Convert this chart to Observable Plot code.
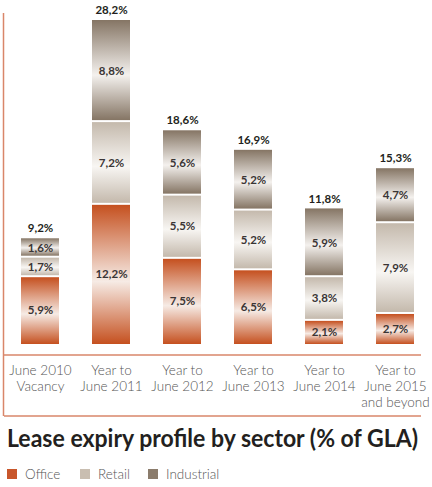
<!DOCTYPE html>
<html><head><meta charset="utf-8">
<script src="https://cdn.jsdelivr.net/npm/d3@7"></script>
<script src="https://cdn.jsdelivr.net/npm/@observablehq/plot@0.6"></script>
<style>
body{margin:0;background:#fff;font-family:Lato,"Open Sans",sans-serif;width:432px;height:487px;position:relative;overflow:hidden;}
#chart{position:absolute;left:0;top:0;}
#title{position:absolute;left:7px;top:424px;font-size:24px;line-height:28px;font-weight:700;color:#231f20;white-space:nowrap;transform-origin:0 0;}
#legend{position:absolute;left:7px;top:466px;height:16px;display:flex;align-items:center;font-size:13.5px;font-weight:300;color:#555;}
#legend .item{display:flex;align-items:center;}
#legend .sw{width:10px;height:10px;margin-right:8px;}
</style></head><body>
<div id="chart"></div>
<div id="title"><span id="tt">Lease expiry profile by sector (% of GLA)</span></div>
<div id="legend"></div>
<script>
const categories = ["June 2010\nVacancy", "Year to\nJune 2011", "Year to\nJune 2012", "Year to\nJune 2013", "Year to\nJune 2014", "Year to\nJune 2015\nand beyond"];
const sectors = ["Office", "Retail", "Industrial"];
const office = [5.9, 12.2, 7.5, 6.5, 2.1, 2.7];
const retail = [1.7, 7.2, 5.5, 5.2, 3.8, 7.9];
const industrial = [1.6, 8.8, 5.6, 5.2, 5.9, 4.7];
const totals = [9.2, 28.2, 18.6, 16.9, 11.8, 15.3];
const sectorColors = ["#c8562b", "#c9beb1", "#8b7c6c"];

const series = [office, retail, industrial];
const rows = [];
categories.forEach((c, i) => {
  let acc = 0;
  series.forEach((s, k) => {
    rows.push({category: c, sector: sectors[k], value: s[i], y1: acc, y2: acc + s[i]});
    acc += s[i];
  });
});
const totalRows = categories.map((c, i) => ({category: c, total: totals[i]}));
const fmt = v => d3.format(".1f")(v).replace(".", ",") + "%";
const gid = s => `url(#grad-${s})`;

const plot = Plot.plot({
  width: 432, height: 420,
  marginLeft: 20, marginRight: 17, marginTop: 20, marginBottom: 76,
  x: {domain: categories, paddingInner: 0.468, paddingOuter: 0, label: null},
  y: {domain: [0, d3.max(totals)], axis: null},
  style: {fontFamily: "Lato, 'Open Sans', sans-serif", background: "#fff"},
  marks: [
    Plot.rectY(rows.filter(d => d.sector === "Office"), {x: "category", y1: "y1", y2: "y2", fill: gid("Office"), insetTop: 1}),
    Plot.rectY(rows.filter(d => d.sector === "Retail"), {x: "category", y1: "y1", y2: "y2", fill: gid("Retail"), insetTop: 1, insetBottom: 1}),
    Plot.rectY(rows.filter(d => d.sector === "Industrial"), {x: "category", y1: "y1", y2: "y2", fill: gid("Industrial"), insetBottom: 1}),
    Plot.text(rows, {x: "category", y: d => (d.y1 + d.y2) / 2, text: d => fmt(d.value), fontSize: 11.5, fontWeight: 700, fill: "#3a3535"}),
    Plot.text(totalRows, {x: "category", y: "total", text: d => fmt(d.total), dy: -10, fontSize: 11.5, fontWeight: 700, fill: "#231f20"}),
    Plot.axisX({tickSize: 0, tickPadding: 19, fontSize: 13.5, fontWeight: 300, lineHeight: 1.2, fill: "#555", label: null})
  ]
});
document.getElementById("chart").appendChild(plot);

const svg = d3.select(plot);
const defs = svg.insert("defs", ":first-child");
const grads = {
  Office: ["#c5501f", "#f6ebe5", "#c5501f"],
  Retail: ["#c4b9ac", "#f8f6f3", "#c4b9ac"],
  Industrial: ["#857564", "#f4f1ee", "#857564"]
};
Object.entries(grads).forEach(([k, c]) => {
  const g = defs.append("linearGradient").attr("id", "grad-" + k).attr("x1", 0).attr("y1", 0).attr("x2", 0).attr("y2", 1);
  g.append("stop").attr("offset", "0%").attr("stop-color", c[0]);
  g.append("stop").attr("offset", "55%").attr("stop-color", c[1]);
  g.append("stop").attr("offset", "100%").attr("stop-color", c[2]);
});

// frame lines
const y0 = plot.scale("y").apply(0);
const lineColor = "#d9866a";
svg.append("line").attr("x1", 3.5).attr("x2", 3.5).attr("y1", 13).attr("y2", y0 + 72).attr("stroke", lineColor).attr("stroke-width", 1.5);
[y0 + 11, y0 + 72].forEach(yy => {
  svg.append("line").attr("x1", 4).attr("x2", 421).attr("y1", yy).attr("y2", yy).attr("stroke", lineColor).attr("stroke-width", 1.5);
});

// legend
const legend = d3.select("#legend");
const widths = [73, 68, 90];
sectors.forEach((s, i) => {
  const it = legend.append("div").attr("class", "item").style("width", widths[i] + "px");
  it.append("div").attr("class", "sw").style("background", sectorColors[i]);
  it.append("span").text(s);
});

// fit title
const tt = document.getElementById("tt");
const w = tt.getBoundingClientRect().width;
document.getElementById("title").style.transform = `scaleX(${411 / w})`;
</script>
</body></html>
